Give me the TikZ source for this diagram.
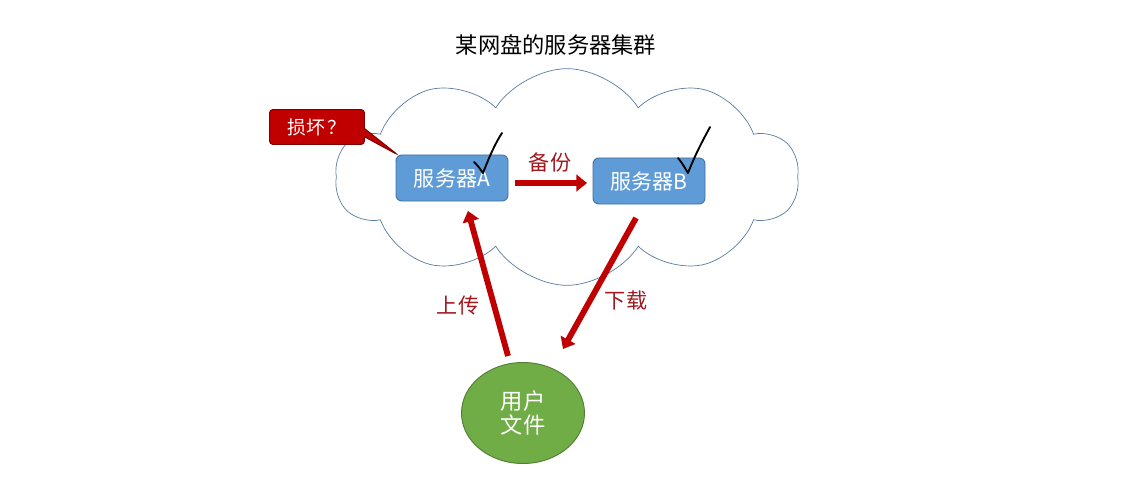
\documentclass[tikz,border=0pt]{standalone}
\usepackage{fontspec}
\setmainfont{Noto Sans CJK SC}
\usetikzlibrary{shapes.symbols,shapes.callouts,shapes.geometric,arrows.meta}
\definecolor{boxfill}{HTML}{5F9BD6}
\definecolor{boxline}{HTML}{41719C}
\definecolor{userfill}{HTML}{70AD47}
\definecolor{userline}{HTML}{507E32}
\definecolor{cloudline}{HTML}{5A7CA0}
\definecolor{arrred}{HTML}{C00000}
\definecolor{arrdark}{HTML}{7A0000}
\definecolor{lblred}{HTML}{A0191E}
\definecolor{calloutline}{HTML}{7A0000}
\tikzset{
  serverbox/.style={draw=boxline, line width=0.8pt, fill=boxfill, rounded corners=5pt,
    minimum width=3.36cm, minimum height=1.38cm, text=white, font=\fontsize{18}{21}\selectfont, inner sep=0pt},
  bigarrow/.style={draw=arrred, line width=5pt, -{Triangle[length=9pt,width=14pt]}},
  arrlabel/.style={text=lblred, font=\fontsize{18}{21}\selectfont},
  checkmark/.style={draw=black, line width=1.6pt, line cap=round, line join=round},
}
\begin{document}
\begin{tikzpicture}[x=0.03cm,y=-0.03cm]
\useasboundingbox (0,0) rectangle (1136,478);
\fill[white] (0,0) rectangle (1136,478);
% title
\node (title) at (556,45) {\fontsize{19}{22}\selectfont 某网盘的服务器集群};
% cloud
\node[cloud, draw=cloudline, line width=0.6pt, cloud puffs=10, cloud puff arc=115, aspect=2.2,
      minimum width=13.9cm, minimum height=6.5cm, inner sep=0pt] (cloud) at (567,177) {};
% servers
\node[serverbox] (A) at (452,178) {服务器A};
\node[serverbox] (B) at (649,181) {服务器B};
% callout
\node[rectangle callout, draw=calloutline, line width=0.8pt, fill=arrred, text=white,
      rounded corners=3pt,
      minimum width=2.85cm, minimum height=1.05cm, inner sep=0pt,
      font=\fontsize{16}{19}\selectfont,
      callout absolute pointer={(398,155)}] (damage) at (317,127) {损坏\,？};
% user ellipse
\node[ellipse, draw=userline, line width=0.8pt, fill=userfill, text=white,
      minimum width=3.69cm, minimum height=3.03cm, inner sep=0pt, align=center,
      font=\fontsize{19}{21}\selectfont] (U) at (523,413) {用户\\文件};
% arrows
\coordinate (bkS) at (515,183);
\coordinate (bkE) at (587,183);
\draw[bigarrow] (bkS) -- (bkE);
\node[arrlabel] (bkl) at (550,162) {备份};
\coordinate (upS) at (508,356);
\coordinate (upE) at (468,211);
\draw[bigarrow] (upS) -- (upE);
\node[arrlabel] (upl) at (458,306) {上传};
\coordinate (dnS) at (636,218);
\coordinate (dnE) at (563,349);
\draw[bigarrow] (dnS) -- (dnE);
\node[arrlabel] (dnl) at (626,300) {下载};
% check marks
\draw[checkmark] (474,162) .. controls (478,166) .. (483,173) .. controls (490,155) and (496,142) .. (502,133);
\draw[checkmark] (678,158) .. controls (682,163) .. (688,173) .. controls (695,155) and (703,140) .. (710,127);
\end{tikzpicture}
\end{document}
